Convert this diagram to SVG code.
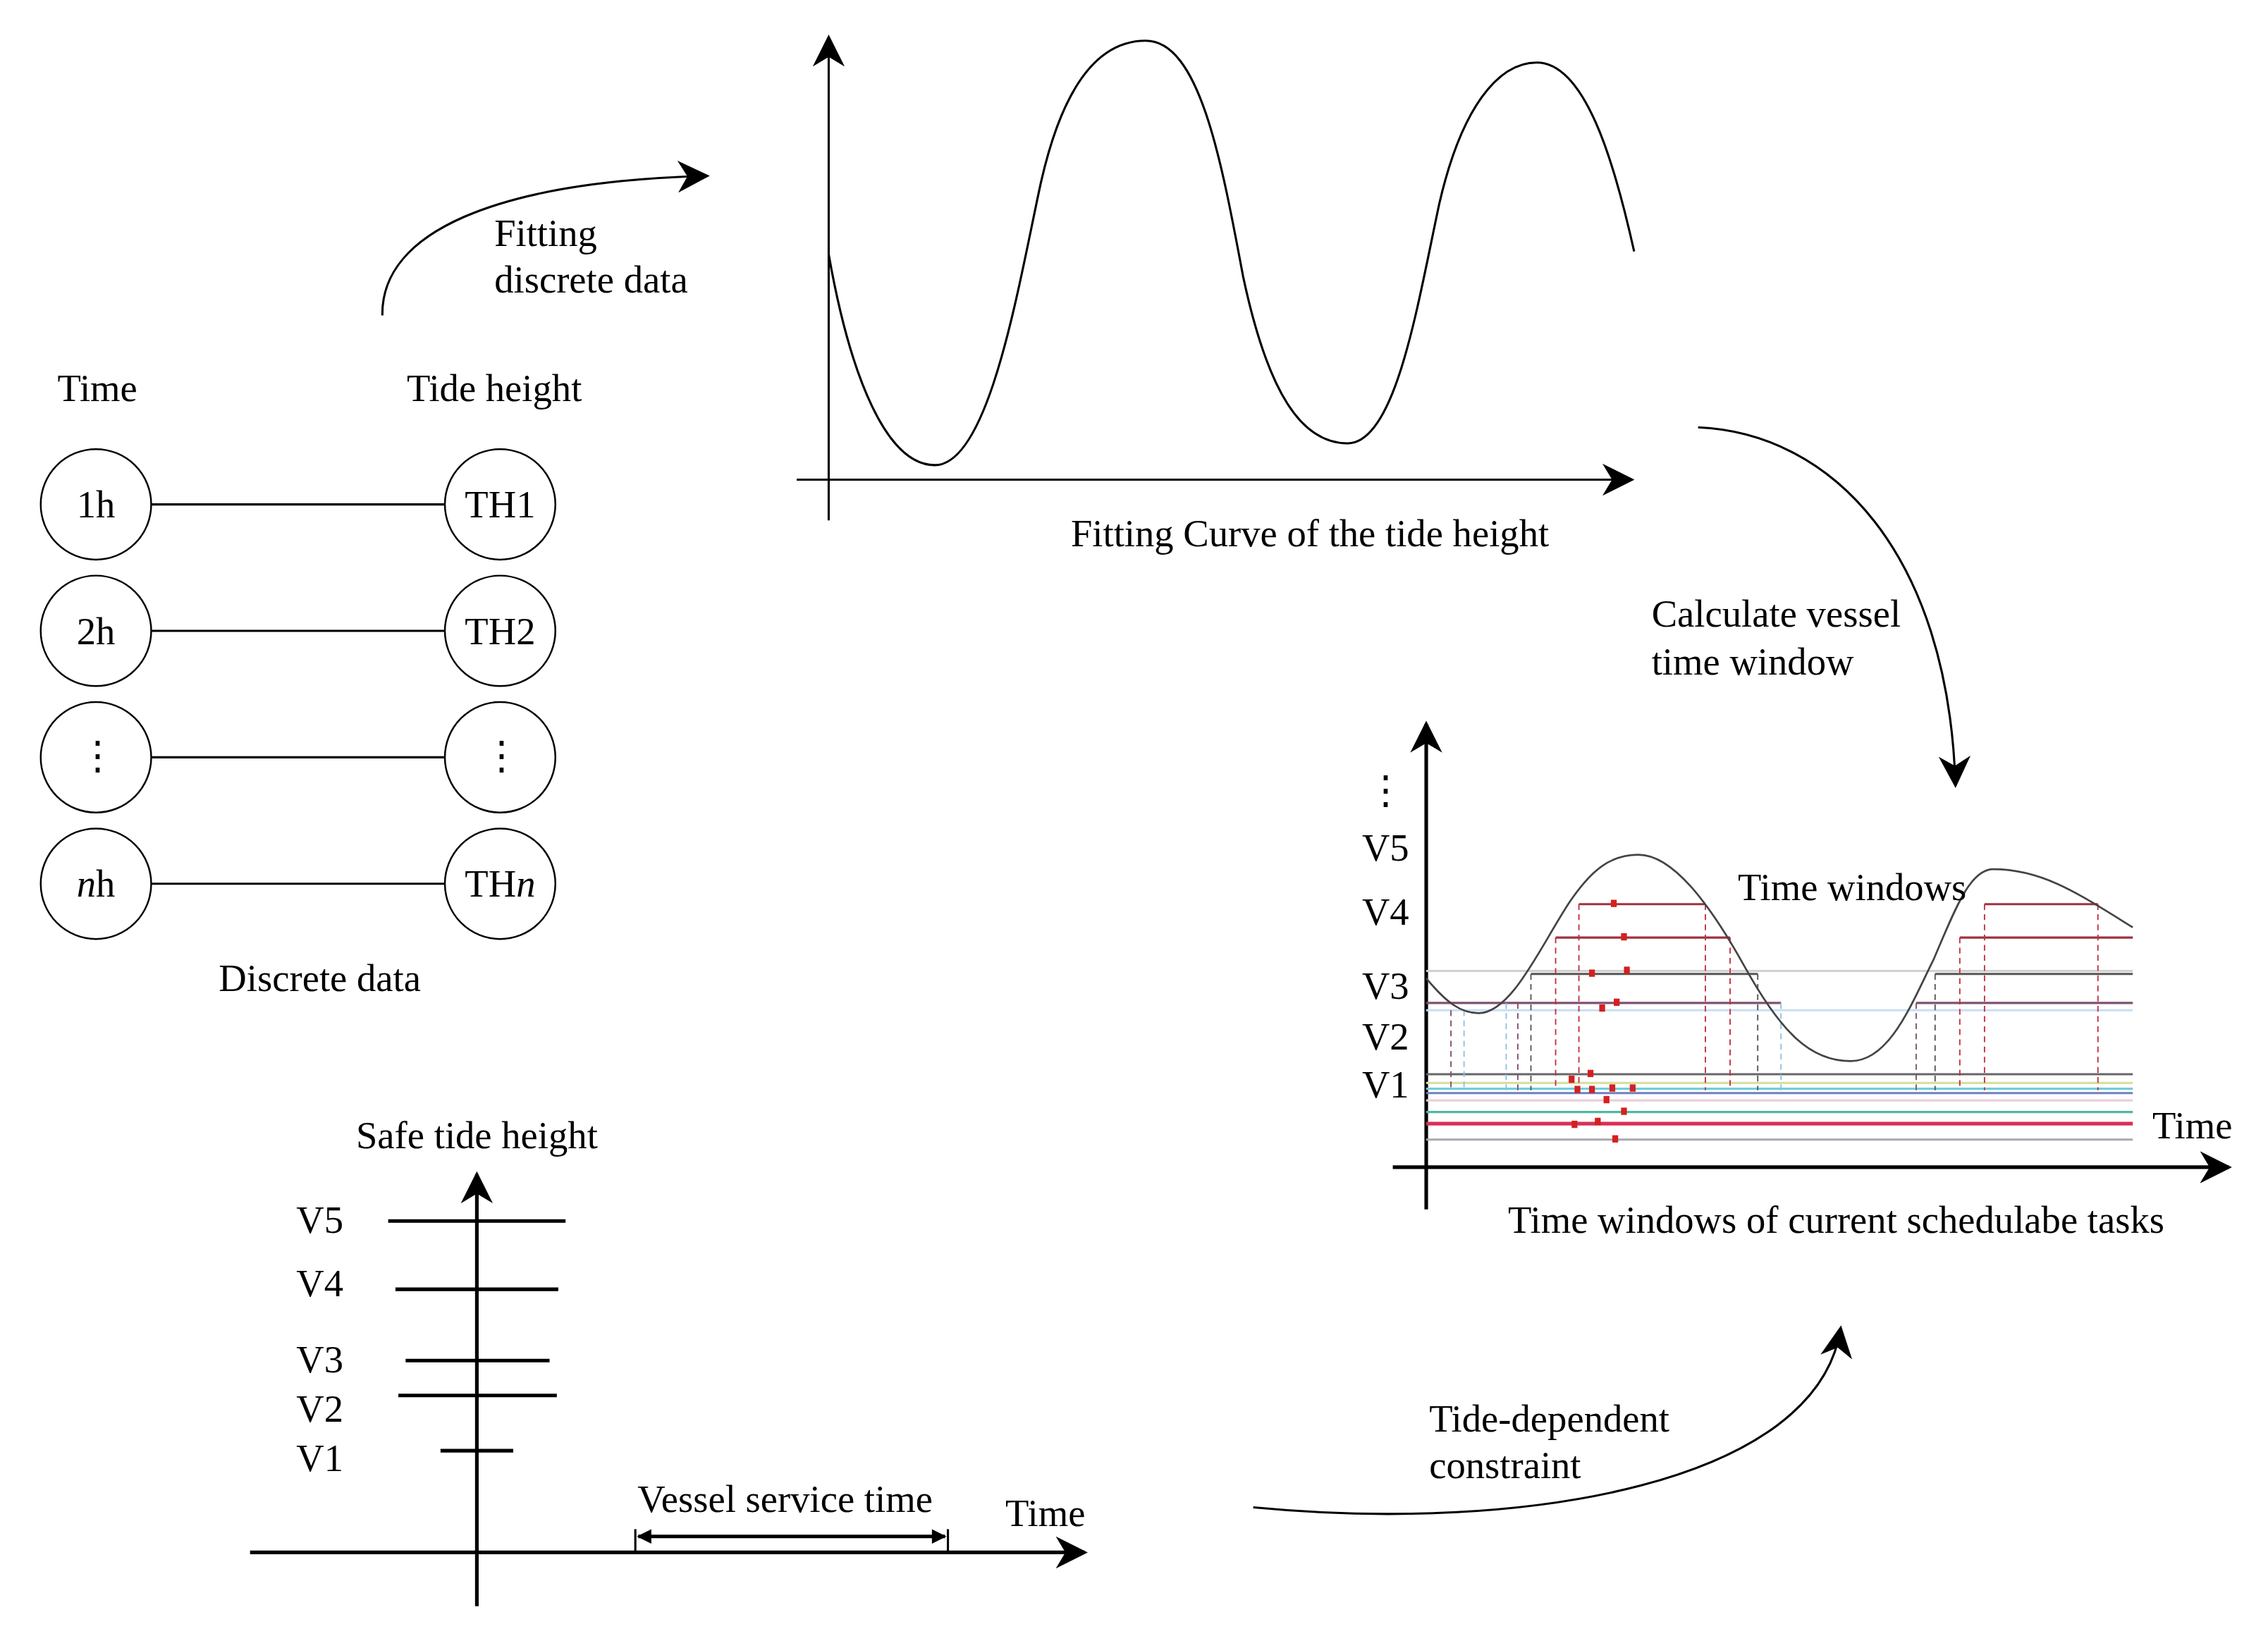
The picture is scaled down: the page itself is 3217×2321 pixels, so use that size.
<svg xmlns="http://www.w3.org/2000/svg" width="3217" height="2321" viewBox="0 0 3217 2321">
<defs>
<marker id="ahL" viewBox="0 0 10 10" refX="9" refY="5" markerWidth="22" markerHeight="22" markerUnits="userSpaceOnUse" orient="auto"><path d="M0,0 L10,5 L0,10 L3,5 z" fill="#000"/></marker>
<marker id="ahS" viewBox="0 0 10 10" refX="9" refY="5" markerWidth="12" markerHeight="10" markerUnits="userSpaceOnUse" orient="auto-start-reverse"><path d="M0,0 L10,5 L0,10 z" fill="#000"/></marker>
</defs>
<style>
text{font-family:"Liberation Serif","Times New Roman",serif;font-size:26.5px;fill:#000}
.m{text-anchor:middle}
.c{fill:#fff;stroke:#000;stroke-width:1.2}
.ln{stroke:#000;stroke-width:1.5;fill:none}
.ax{stroke:#000;stroke-width:2.5;fill:none}
.d{stroke-width:0.9;stroke-dasharray:4,3;fill:none}
.sq{fill:#d42020}
</style>
<rect width="3217" height="2321" fill="#fff"/>
<g transform="scale(2.0622)">
<g id="discrete">
<text class="m" x="67" y="276">Time</text>
<text class="m" x="340" y="276">Tide height</text>
<g class="ln"><line x1="104" y1="347" x2="306" y2="347"/><line x1="104" y1="434" x2="306" y2="434"/><line x1="104" y1="521" x2="306" y2="521"/><line x1="104" y1="608" x2="306" y2="608"/></g>
<circle class="c" cx="66" cy="347" r="38"/><circle class="c" cx="344" cy="347" r="38"/>
<circle class="c" cx="66" cy="434" r="38"/><circle class="c" cx="344" cy="434" r="38"/>
<circle class="c" cx="66" cy="521" r="38"/><circle class="c" cx="344" cy="521" r="38"/>
<circle class="c" cx="66" cy="608" r="38"/><circle class="c" cx="344" cy="608" r="38"/>
<text class="m" x="66" y="356">1h</text><text class="m" x="344" y="356">TH1</text>
<text class="m" x="67" y="529">⋮</text><text class="m" x="345" y="529">⋮</text>
<text class="m" x="66" y="443">2h</text><text class="m" x="344" y="443">TH2</text>
<text class="m" x="66" y="617"><tspan font-style="italic">n</tspan>h</text><text class="m" x="344" y="617">TH<tspan font-style="italic">n</tspan></text>
<text class="m" x="220" y="682">Discrete data</text>
</g>
<g id="fitting">
<line class="ln" x1="570" y1="358" x2="570" y2="26" marker-end="url(#ahL)"/>
<line class="ln" x1="548" y1="330" x2="1122" y2="330" marker-end="url(#ahL)"/>
<path class="ln" d="M570,175 C585,260 610,320 643,320 C680,320 700,200 715,130 C730,60 755,28 788,28 C825,28 840,110 855,190 C872,270 895,305 927,305 C960,305 975,210 990,140 C1005,75 1030,43 1057,43 C1090,43 1110,110 1124,173"/>
<text class="m" x="901" y="376">Fitting Curve of the tide height</text>
</g>
<g id="windows">
<line class="ax" x1="981" y1="832" x2="981" y2="498" marker-end="url(#ahL)"/>
<line class="ax" x1="958" y1="803" x2="1533" y2="803" marker-end="url(#ahL)"/>
<text class="m" x="953" y="553">⋮</text>
<text class="m" x="953" y="592">V5</text><text class="m" x="953" y="636">V4</text><text class="m" x="953" y="687">V3</text><text class="m" x="953" y="722">V2</text><text class="m" x="953" y="755">V1</text>
<g stroke-width="1.5" fill="none">
<line x1="981" y1="739" x2="1467" y2="739" stroke="#666"/>
<line x1="981" y1="745" x2="1467" y2="745" stroke="#d8e0a0"/>
<line x1="981" y1="749" x2="1467" y2="749" stroke="#70d0d8"/>
<line x1="981" y1="752" x2="1467" y2="752" stroke="#7080c0"/>
<line x1="981" y1="757" x2="1467" y2="757" stroke="#e8d0d8"/>
<line x1="981" y1="765" x2="1467" y2="765" stroke="#50b8a0"/>
<line x1="981" y1="773" x2="1467" y2="773" stroke="#d83058" stroke-width="2.5"/>
<line x1="981" y1="784" x2="1467" y2="784" stroke="#a8a8b0"/>
<line x1="981" y1="695" x2="1467" y2="695" stroke="#c8e0f0"/>
<line x1="981" y1="668" x2="1467" y2="668" stroke="#d0d0d0"/>
<line x1="981" y1="690" x2="1225" y2="690" stroke="#805070"/>
<line x1="1318" y1="690" x2="1467" y2="690" stroke="#805070"/>
<line x1="1053" y1="670" x2="1209" y2="670" stroke="#555"/>
<line x1="1331" y1="670" x2="1467" y2="670" stroke="#555"/>
<line x1="1070" y1="645" x2="1190" y2="645" stroke="#a03040"/>
<line x1="1348" y1="645" x2="1467" y2="645" stroke="#a03040"/>
<line x1="1086" y1="622" x2="1173" y2="622" stroke="#a03040"/>
<line x1="1365" y1="622" x2="1443" y2="622" stroke="#a03040"/>
</g>
<g class="d">
<line x1="998" y1="695" x2="998" y2="750" stroke="#805070"/>
<line x1="1007" y1="695" x2="1007" y2="750" stroke="#90c0e0"/>
<line x1="1036" y1="690" x2="1036" y2="750" stroke="#90c0e0"/>
<line x1="1044" y1="690" x2="1044" y2="750" stroke="#805070"/>
<line x1="1053" y1="670" x2="1053" y2="750" stroke="#555"/>
<line x1="1070" y1="645" x2="1070" y2="750" stroke="#c03040"/>
<line x1="1086" y1="622" x2="1086" y2="750" stroke="#c03040"/>
<line x1="1173" y1="622" x2="1173" y2="750" stroke="#c03040"/>
<line x1="1190" y1="645" x2="1190" y2="750" stroke="#c03040"/>
<line x1="1209" y1="670" x2="1209" y2="750" stroke="#555"/>
<line x1="1225" y1="690" x2="1225" y2="750" stroke="#90c0e0"/>
<line x1="1318" y1="690" x2="1318" y2="750" stroke="#805070"/>
<line x1="1331" y1="670" x2="1331" y2="750" stroke="#555"/>
<line x1="1348" y1="645" x2="1348" y2="750" stroke="#c03040"/>
<line x1="1365" y1="622" x2="1365" y2="750" stroke="#c03040"/>
<line x1="1443" y1="622" x2="1443" y2="750" stroke="#c03040"/>
</g>
<path d="M981,673 C995,690 1005,697 1017,697 C1040,697 1060,650 1080,620 C1095,598 1108,588 1127,588 C1150,588 1175,620 1200,665 C1225,710 1245,730 1273,730 C1300,730 1315,690 1330,660 C1345,625 1355,598 1371,598 C1405,598 1430,615 1467,638" fill="none" stroke="#444" stroke-width="1.3"/>
<g class="sq">
<rect x="1108" y="619" width="4" height="5"/><rect x="1115" y="642" width="4" height="5"/>
<rect x="1093" y="667" width="4" height="5"/><rect x="1117" y="665" width="4" height="5"/>
<rect x="1100" y="691" width="4" height="5"/><rect x="1110" y="687" width="4" height="5"/>
<rect x="1092" y="736" width="4" height="5"/><rect x="1079" y="740" width="4" height="5"/>
<rect x="1083" y="747" width="4" height="5"/><rect x="1093" y="747" width="4" height="5"/>
<rect x="1107" y="746" width="4" height="5"/><rect x="1121" y="746" width="4" height="5"/>
<rect x="1103" y="754" width="4" height="5"/><rect x="1115" y="762" width="4" height="5"/>
<rect x="1081" y="771" width="4" height="5"/><rect x="1097" y="769" width="4" height="5"/>
<rect x="1109" y="781" width="4" height="5"/>
</g>
<text class="m" x="1274" y="619">Time windows</text>
<text class="m" x="1508" y="783">Time</text>
<text class="m" x="1263" y="848">Time windows of current schedulabe tasks</text>
</g>
<g id="safe">
<line class="ax" x1="328" y1="1105" x2="328" y2="808" marker-end="url(#ahL)"/>
<line class="ax" x1="172" y1="1068" x2="746" y2="1068" marker-end="url(#ahL)"/>
<g class="ax">
<line x1="267" y1="840" x2="389" y2="840"/><line x1="272" y1="887" x2="384" y2="887"/>
<line x1="279" y1="936" x2="378" y2="936"/><line x1="274" y1="960" x2="383" y2="960"/>
<line x1="303" y1="998" x2="353" y2="998"/>
</g>
<text class="m" x="220" y="848">V5</text><text class="m" x="220" y="892">V4</text><text class="m" x="220" y="944">V3</text><text class="m" x="220" y="978">V2</text><text class="m" x="220" y="1012">V1</text>
<text class="m" x="328" y="790">Safe tide height</text>
<line x1="437" y1="1052" x2="437" y2="1068" class="ln"/>
<line x1="652" y1="1052" x2="652" y2="1068" class="ln"/>
<line x1="439" y1="1057" x2="650" y2="1057" class="ax" stroke-width="2" marker-start="url(#ahS)" marker-end="url(#ahS)"/>
<text class="m" x="540" y="1040">Vessel service time</text>
<text class="m" x="719" y="1050">Time</text>
</g>
<g id="connectors">
<path class="ln" d="M263,217 C262,160 340,125 486,121" marker-end="url(#ahL)"/>
<path class="ln" d="M1168,294 C1260,298 1340,380 1345,540" marker-end="url(#ahL)"/>
<path class="ln" d="M862,1037 C1050,1055 1250,1020 1266,914" marker-end="url(#ahL)"/>
</g>
<text x="340" y="169">Fitting</text><text x="340" y="201">discrete data</text>
<text x="1136" y="431">Calculate vessel</text><text x="1136" y="464">time window</text>
<text x="983" y="985">Tide-dependent</text><text x="983" y="1017">constraint</text>
</g>
</svg>
